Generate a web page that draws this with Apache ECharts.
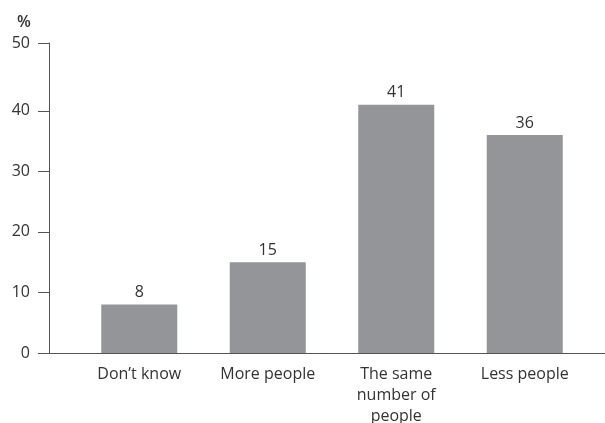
<!DOCTYPE html>
<html>
<head>
<meta charset="utf-8">
<script src="https://cdn.jsdelivr.net/npm/echarts@6/dist/echarts.min.js"></script>
<style>html,body{margin:0;padding:0;background:#fff}#c{width:605px;height:423px}</style>
</head>
<body>
<div id="c"></div>
<script>
const categories = ["Don\u2019t know", "More people", "The same\nnumber of\npeople", "Less people"];
const values = [8, 15, 41, 36];
// tick positions on the value scale and the labels printed at them (the top tick sits at the axis end)
const yAxisMax = 51.2;
const yTickValues = [0, 10, 20, 30, 40, 51.2];
const yTickLabels = ['0', '10', '20', '30', '40', '50'];

const font = "'Open Sans', sans-serif";
const textColor = '#333333';
const axisColor = '#555555';

const chart = echarts.init(document.getElementById('c'));
chart.setOption({
  animation: false,
  title: { text: '%', left: 12, top: 9, textStyle: { fontFamily: font, fontSize: 16, fontWeight: 600, color: textColor } },
  grid: [
    { left: 75, right: 16, top: 43, bottom: 70, containLabel: false, outerBoundsMode: 'none' },
    { left: 49, right: 0, top: 43, bottom: 70, containLabel: false, outerBoundsMode: 'none' }
  ],
  xAxis: [
    { type: 'category', gridIndex: 0, data: categories,
      axisLine: { show: false }, axisTick: { show: false },
      axisLabel: { fontFamily: font, fontSize: 16, color: textColor, margin: 11, lineHeight: 21, interval: 0 } },
    { type: 'value', gridIndex: 1, min: 0, max: 1, show: true,
      axisLine: { show: true, onZero: false, lineStyle: { color: axisColor, width: 1 } },
      axisTick: { show: false }, axisLabel: { show: false }, splitLine: { show: false } }
  ],
  yAxis: [
    { type: 'value', gridIndex: 0, min: 0, max: yAxisMax, show: false, splitLine: { show: false } },
    { type: 'value', gridIndex: 1, min: 0, max: yAxisMax,
      axisLine: { show: true, lineStyle: { color: axisColor, width: 1 } },
      axisTick: { show: true, inside: false, length: 11, customValues: yTickValues, lineStyle: { color: axisColor } },
      axisLabel: { fontFamily: font, fontSize: 16, color: textColor, margin: 19, customValues: yTickValues,
        formatter: function (v) { const i = yTickValues.indexOf(v); return i >= 0 ? yTickLabels[i] : ''; } },
      splitLine: { show: false } }
  ],
  series: [{
    type: 'bar', xAxisIndex: 0, yAxisIndex: 0, data: values, barWidth: 76,
    itemStyle: { color: '#939598' },
    label: { show: true, position: 'top', distance: 4, fontFamily: font, fontSize: 16, color: textColor }
  }]
});
</script>
</body>
</html>
